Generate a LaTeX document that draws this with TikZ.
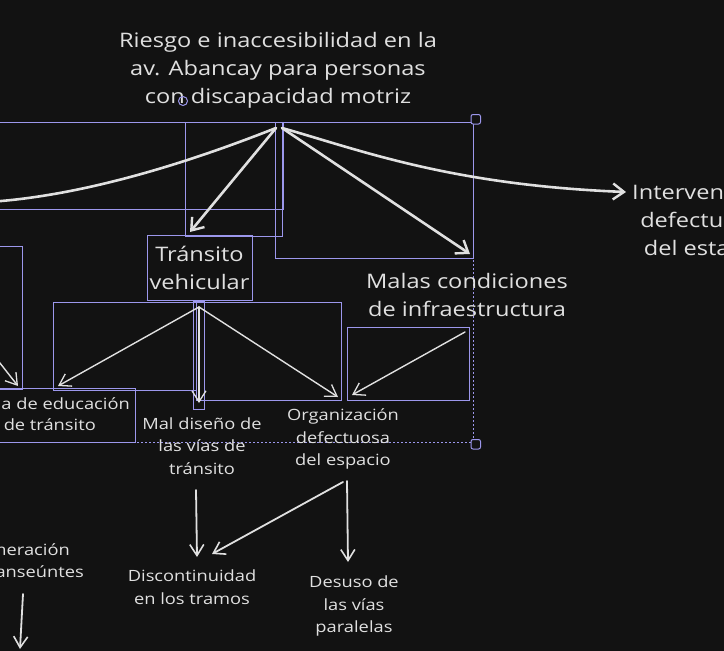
\documentclass[tikz,border=0pt]{standalone}
\usepackage{fontspec}
\setmainfont{Open Sans}[FakeStretch=1.18]
\usetikzlibrary{arrows.meta}
\definecolor{bg}{HTML}{121212}
\definecolor{sel}{HTML}{9C97EC}
\definecolor{ink}{HTML}{E0E0E0}
\begin{document}
\begin{tikzpicture}[x=1pt,y=-1pt,
  selbox/.style={draw=sel, line width=0.9pt},
  seldot/.style={draw=sel, line width=0.9pt, dash pattern=on 2pt off 2pt},
  handle/.style={draw=sel, line width=1pt, rounded corners=2pt, fill=bg},
  bigarrow/.style={draw=ink, line width=2.6pt, line cap=round, line join=round, -{Straight Barb[length=11pt,width=16pt,line width=2.4pt]}},
  bignotip/.style={draw=ink, line width=2.6pt, line cap=round},
  midarrow/.style={draw=ink, line width=1.8pt, line cap=round, -{Straight Barb[length=11pt,width=14pt,line width=1.6pt]}},
  thinarrow/.style={draw=ink, line width=1.4pt, line cap=round, -{Straight Barb[length=11pt,width=14pt,line width=1.3pt]}},
  bigtxt/.style={text=ink, inner sep=0pt, align=center, font=\fontsize{20}{28}\selectfont},
  smalltxt/.style={text=ink, inner sep=0pt, align=center, font=\fontsize{15.5}{22.5}\selectfont}
]
\fill[bg] (0,0) rectangle (724,651);
\useasboundingbox (0,0) rectangle (724,651);
\begin{scope}
\clip (0,0) rectangle (724,651);

% selection outline
\draw[seldot] (-5,122) -- (473,122) -- (473,442) -- (-5,442);

% selection rectangles
\draw[selbox] (-5,122) rectangle (283,209);
\draw[selbox] (185,122) rectangle (282,236);
\draw[selbox] (275,122) rectangle (473,258);
\draw[selbox] (-5,246) rectangle (22,389);
\draw[selbox] (53,302) rectangle (196,390);
\draw[selbox] (196,302) rectangle (341,400);
\draw[selbox] (193,301) rectangle (204,409);
\draw[selbox] (-5,388) rectangle (135,442);
\draw[selbox] (347,327) rectangle (469,400);
\draw[selbox] (147,235) rectangle (252,300);

% handles
\draw[handle] (471,114.5) rectangle (480.5,124);
\draw[handle] (471,439.5) rectangle (480.5,449);

% texts
\node[bigtxt] (title) at (278,70) {Riesgo e inaccesibilidad en la\\av. Abancay para personas\\con\hspace{6pt}discapacidad motriz};
\draw[sel, line width=1pt] (183,101) circle (4.5);
\node[bigtxt] (transito) at (199.5,268) {Tránsito\\vehicular};
\node[bigtxt] (malas) at (467,295) {Malas condiciones\\de infraestructura};
\node[bigtxt, anchor=west] (interv) at (632,220) {Intervención\\defectuosa\\del estado};
\node[smalltxt] (diseno) at (202,446) {Mal diseño de\\las vías de\\tránsito};
\node[smalltxt] (organiz) at (343,439) {Organización\\defectuosa\\del espacio};
\node[smalltxt] (discont) at (192,587) {Discontinuidad\\en los tramos};
\node[smalltxt] (desuso) at (354,606) {Desuso de\\las vías\\paralelas};
\node[smalltxt, anchor=east] (edu1) at (130,404) {a de educación};
\node[smalltxt, anchor=east] (edu2) at (96,425) {de tránsito};
\node[smalltxt, anchor=east] (agl1) at (70,550) {meración};
\node[smalltxt, anchor=east] (agl2) at (84,572) {anseúntes};

% coordinates for connector ends
\coordinate (hubL) at (276,128);
\coordinate (hubR) at (282,128);
\coordinate (offL) at (-12,202);
\coordinate (tTran) at (190,232);
\coordinate (tInterv) at (626,192);
\coordinate (tMalas) at (470,254);
\coordinate (vTop) at (199,307);
\coordinate (tEdu) at (58,386);
\coordinate (tDis) at (199,403);
\coordinate (tOrg) at (338,397);
\coordinate (mStart) at (465,332);
\coordinate (tMal2) at (352,395);
\coordinate (lStart) at (-4,358);
\coordinate (tLeft) at (18,386);
\coordinate (dStart) at (196,490);
\coordinate (tDisc) at (197,557);
\coordinate (oStart) at (343,482);
\coordinate (oStart2) at (347,481);
\coordinate (tDisc2) at (212,554);
\coordinate (tDesuso) at (348,562);
\coordinate (aStart) at (23,594);
\coordinate (tAgl) at (20,649);

% top connectors
\draw[bignotip] (hubL) .. controls (220,150) and (100,195) .. (offL);
\draw[bigarrow] (hubL) -- (tTran);
\draw[bigarrow] (hubR) .. controls (360,150) and (450,185) .. (tInterv);
\draw[bigarrow] (hubR) -- (tMalas);

% middle connectors
\draw[thinarrow] (vTop) -- (tEdu);
\draw[thinarrow] (vTop) -- (tDis);
\draw[thinarrow] (vTop) -- (tOrg);
\draw[thinarrow] (mStart) -- (tMal2);
\draw[thinarrow] (lStart) -- (tLeft);

% bottom connectors
\draw[midarrow] (dStart) -- (tDisc);
\draw[midarrow] (oStart) -- (tDisc2);
\draw[midarrow] (oStart2) -- (tDesuso);
\draw[midarrow] (aStart) -- (tAgl);
\end{scope}
\end{tikzpicture}
\end{document}
